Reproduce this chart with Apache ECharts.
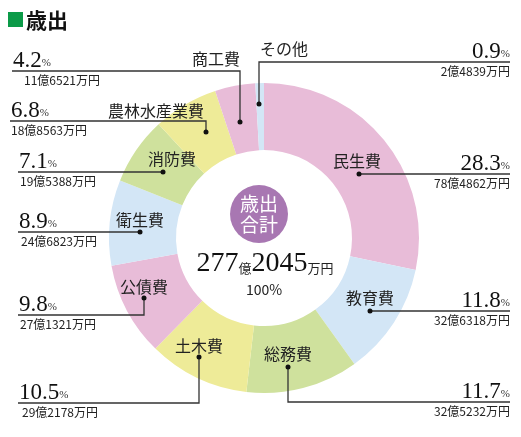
<!DOCTYPE html>
<html><head><meta charset="utf-8">
<script src="https://cdn.jsdelivr.net/npm/echarts@6/dist/echarts.min.js"></script>
<style>html,body{margin:0;padding:0;background:#fff}#c{width:521px;height:437px}</style>
</head><body><div id="c"></div>
<script>
// ---- data ----
const categories = ['民生費','教育費','総務費','土木費','公債費','衛生費','消防費','農林水産業費','商工費','その他'];
const valuesMan = [784862, 326318, 325232, 292178, 271321, 246823, 195388, 188563, 116521, 24839]; // 万円
const pctLabels = ['28.3','11.8','11.7','10.5','9.8','8.9','7.1','6.8','4.2','0.9'];
const totalLabel = {oku: '277', man: '2045', pct: '100%'};
const title = '歳出';
const centerTitle = '歳出\n合計';

// ---- styles / layout ----
const colors = ['#e8bcd8','#d3e6f6','#cfe19d','#eeeb98','#e8bcd8','#d3e6f6','#cfe19d','#eeeb98','#e8bcd8','#d3e6f6'];
const CX = 264, CY = 238;
const layout = [
  {dot:[359,174], lineY:174, endX:510, name:[357,161]},
  {dot:[370,311], lineY:311, endX:510, name:[370,298]},
  {dot:[288,367], lineY:402, endX:510, name:[288,354]},
  {dot:[199,357], lineY:403, endX:18, name:[199,346], amtX:22},
  {dot:[144,298], lineY:315, endX:18, name:[144,287], amtX:20},
  {dot:[140,232], lineY:232, endX:18, name:[140,220], amtX:21},
  {dot:[163,172], lineY:172, endX:18, name:[172,159], amtX:20},
  {dot:[206,132], lineY:121, endX:10, name:[156,111], amtX:11},
  {dot:[240,122], lineY:71, endX:12, name:[216,59], amtX:24},
  {dot:[259,104], lineY:62, endX:510, name:[284,49]}
];
const SANS = '"Noto Sans CJK JP","Noto Sans",sans-serif';
const SERIF = '"Liberation Serif","DejaVu Serif",serif';

function amountText(v){ return Math.floor(v/10000) + '億' + (v % 10000) + '万円'; }

const graphics = [];
// title
graphics.push({type:'rect', shape:{x:8,y:12,width:15,height:15}, style:{fill:'#0b9a48'}});
graphics.push({type:'text', x:26, y:20, style:{text:title, font:'bold 21px '+SANS, fill:'#111', textVerticalAlign:'middle'}});

categories.forEach((c,i)=>{
  const L = layout[i];
  const pts = [L.dot];
  if (L.lineY !== L.dot[1]) pts.push([L.dot[0], L.lineY]);
  pts.push([L.endX, L.lineY]);
  graphics.push({type:'polyline', shape:{points:pts}, style:{stroke:'#333', lineWidth:1.3, fill:null}, z:10});
  graphics.push({type:'circle', shape:{cx:L.dot[0], cy:L.dot[1], r:2.5}, style:{fill:'#111'}, z:11});
  graphics.push({type:'text', x:L.name[0], y:L.name[1], z:11, style:{text:c, font:'16px '+SANS, fill:'#222', textAlign:'center', textVerticalAlign:'middle'}});
  const right = L.endX > CX;
  graphics.push({type:'text', x: right ? L.endX : L.endX + 1, y: L.lineY + 1, z:11,
    style:{text:'{n|'+pctLabels[i]+'}{p|%}', textAlign: right ? 'right':'left', textVerticalAlign:'bottom',
      rich:{n:{font:'23px '+SERIF, fill:'#111'}, p:{font:'11px '+SERIF, fill:'#333', padding:[6,0,0,0]}}}});
  graphics.push({type:'text', x: right ? L.endX : L.amtX, y: L.lineY + 3, z:11,
    style:{text: amountText(valuesMan[i]), font:'12px '+SANS, fill:'#222', textAlign: right ? 'right':'left', textVerticalAlign:'top'}});
});

// center
graphics.push({type:'circle', shape:{cx:259, cy:214, r:29}, style:{fill:'#a877b2'}, z:5});
graphics.push({type:'text', x:259, y:214, z:6, style:{text:centerTitle, font:'19px '+SANS, lineHeight:21, fill:'#fff', textAlign:'center', textVerticalAlign:'middle'}});
graphics.push({type:'text', x:265, y:264, z:6, style:{text:'{b|'+totalLabel.oku+'}{s|億}{b|'+totalLabel.man+'}{s|万円}', textAlign:'center', textVerticalAlign:'middle',
  rich:{b:{font:'28px '+SERIF, fill:'#111'}, s:{font:'13px '+SANS, fill:'#222', padding:[8,0,0,0]}}}});
graphics.push({type:'text', x:264, y:290, z:6, style:{text:totalLabel.pct, font:'14px '+SANS, fill:'#222', textAlign:'center', textVerticalAlign:'middle'}});

const chart = echarts.init(document.getElementById('c'));
chart.setOption({
  animation:false,
  series:[{
    type:'pie', center:[CX,CY], radius:[88,155], startAngle:90, clockwise:true, silent:true,
    label:{show:false}, labelLine:{show:false},
    data: categories.map((c,i)=>({name:c, value:valuesMan[i], itemStyle:{color:colors[i]}}))
  }],
  graphic: graphics
});
</script></body></html>
